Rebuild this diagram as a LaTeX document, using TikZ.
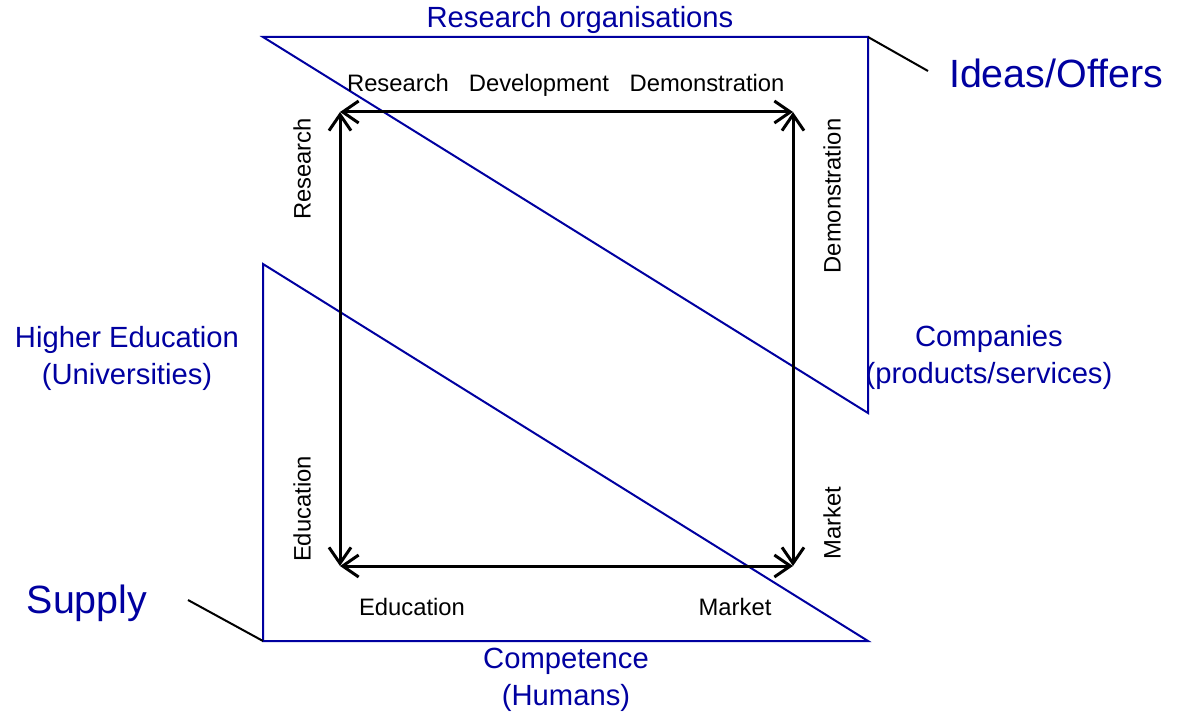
\documentclass[tikz,border=0pt]{standalone}
\usepackage{fontspec}
\setmainfont{Liberation Sans}
\usetikzlibrary{arrows.meta, positioning, calc}
\definecolor{orgblue}{RGB}{0,0,160}

\begin{document}
\begin{tikzpicture}[x=0.5pt, y=-0.5pt,
      stage/.style={font=\fontsize{11.9}{13}\selectfont, text=black, inner sep=0pt, text height=0.75em, text depth=0.2em},
      actor/.style={font=\fontsize{14.6}{18.5}\selectfont, text=orgblue, align=center, inner sep=0pt},
      role/.style={font=\fontsize{19.7}{22}\selectfont, text=orgblue, inner sep=0pt},
      tri/.style={draw=orgblue, line width=1pt, line join=miter},
      flow/.style={{Straight Barb[length=8pt,width=11pt]}-{Straight Barb[length=8pt,width=11pt]}, line width=1.5pt},
      leader/.style={draw=black, line width=1pt}]
      \useasboundingbox (0,0) rectangle (1177,717);
      % triangles
      \coordinate (ra) at (263,37);
      \coordinate (rb) at (868,37);
      \coordinate (rc) at (868,413);
      \coordinate (ca) at (263,264);
      \coordinate (cb) at (263,641);
      \coordinate (cc) at (868,641);
      \draw[tri] (ra) -- (rb) -- (rc) -- cycle;
      \draw[tri] (ca) -- (cb) -- (cc) -- cycle;
      % square of arrows
      \coordinate (sqtl) at (340,112);
      \coordinate (sqtr) at (793,112);
      \coordinate (sqbl) at (340,566);
      \coordinate (sqbr) at (793,566);
      \draw[flow] (sqtl) -- (sqtr);
      \draw[flow] (sqtr) -- (sqbr);
      \draw[flow] (sqbl) -- (sqbr);
      \draw[flow] (sqtl) -- (sqbl);
      % stage labels
      \node[stage] (topres) at (398,86) {Research};
      \node[stage] (topdev) at (539,86) {Development};
      \node[stage] (topdem) at (707,86) {Demonstration};
      \node[stage, rotate=90] (leftres) at (305,169) {Research};
      \node[stage, rotate=90] (rightdem) at (835,196) {Demonstration};
      \node[stage, rotate=90] (leftedu) at (305,509) {Education};
      \node[stage, rotate=90] (rightmkt) at (835,523) {Market};
      \node[stage] (botedu) at (412,610) {Education};
      \node[stage] (botmkt) at (735,610) {Market};
      % actors
      \node[actor] (resorg) at (580,20) {Research organisations};
      \node[actor] (higher) at (127,358) {Higher Education\\(Universities)};
      \node[actor] (comp) at (989,357) {Companies\\(products/services)};
      \node[actor] (compet) at (566,680) {Competence\\(Humans)};
      \node[role] (ideas) at (1056,73) {Ideas/Offers};
      \node[role] (supply) at (87,603) {Supply};
      \coordinate (ideasend) at (928,71);
      \coordinate (supplyend) at (188,600);
      \draw[leader] (rb) -- (ideasend);
      \draw[leader] (supplyend) -- (cb);
\end{tikzpicture}
\end{document}
